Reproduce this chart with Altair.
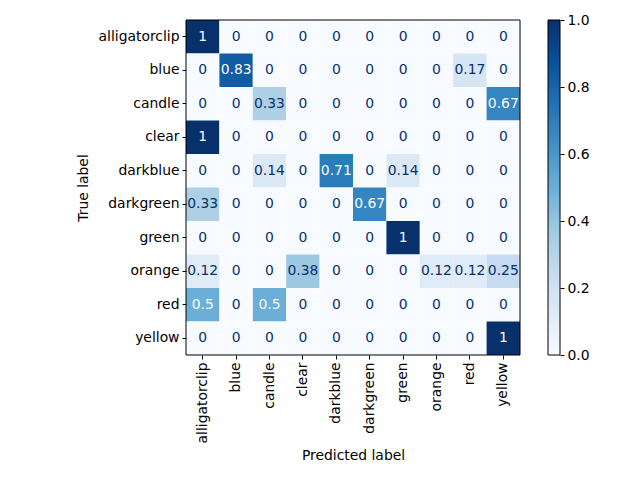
import altair as alt
import pandas as pd

labels = ["alligatorclip", "blue", "candle", "clear", "darkblue",
          "darkgreen", "green", "orange", "red", "yellow"]

matrix = [
    [1, 0, 0, 0, 0, 0, 0, 0, 0, 0],
    [0, 0.83, 0, 0, 0, 0, 0, 0, 0.17, 0],
    [0, 0, 0.33, 0, 0, 0, 0, 0, 0, 0.67],
    [1, 0, 0, 0, 0, 0, 0, 0, 0, 0],
    [0, 0, 0.14, 0, 0.71, 0, 0.14, 0, 0, 0],
    [0.33, 0, 0, 0, 0, 0.67, 0, 0, 0, 0],
    [0, 0, 0, 0, 0, 0, 1, 0, 0, 0],
    [0.12, 0, 0, 0.38, 0, 0, 0, 0.12, 0.12, 0.25],
    [0.5, 0, 0.5, 0, 0, 0, 0, 0, 0, 0],
    [0, 0, 0, 0, 0, 0, 0, 0, 0, 1],
]

blues = ["#f7fbff", "#deebf7", "#c6dbef", "#9ecae1", "#6baed6",
         "#4292c6", "#2171b5", "#08519c", "#08306b"]
stops = [i / 8 for i in range(9)]
cbar_ticks = [0, 0.2, 0.4, 0.6, 0.8, 1.0]

rows = []
for i, t in enumerate(labels):
    for j, p in enumerate(labels):
        rows.append({"true": t, "pred": p, "value": matrix[i][j]})
df = pd.DataFrame(rows)

FONT = "DejaVu Sans"
FS = 13.9
W, H = 334, 335

base = alt.Chart(df)

x_enc = alt.X("pred:N", sort=labels, title="Predicted label",
              axis=alt.Axis(labelAngle=270, labelAlign="right", labelBaseline="middle",
                            tickSize=4, labelPadding=3, titlePadding=6,
                            domain=False, tickColor="black", labelColor="black",
                            titleFontWeight="normal"))
y_enc = alt.Y("true:N", sort=labels, title="True label",
              axis=alt.Axis(tickSize=4, labelPadding=3, titlePadding=8,
                            domain=False, tickColor="black", labelColor="black",
                            titleFontWeight="normal"))

rect = base.mark_rect().encode(
    x=x_enc,
    y=y_enc,
    color=alt.Color("value:Q", scale=alt.Scale(domain=stops, range=blues), legend=None),
)

text = base.mark_text(font=FONT, fontSize=FS).encode(
    x=alt.X("pred:N", sort=labels),
    y=alt.Y("true:N", sort=labels),
    text=alt.Text("value:Q", format=".2~g"),
    color=alt.condition(alt.datum.value >= 0.5, alt.value("#f7fbff"), alt.value("#08306b")),
)

frame = alt.Chart(pd.DataFrame({"k": [0]})).mark_rect(
    filled=False, stroke="black", strokeWidth=1
).encode(x=alt.value(0), x2=alt.value(W), y=alt.value(0), y2=alt.value(H))

matrix_chart = (rect + text + frame).properties(width=W, height=H)

gradient = alt.LinearGradient(
    gradient="linear",
    stops=[alt.GradientStop(color=c, offset=o) for c, o in zip(blues, stops)],
    x1=0, x2=0, y1=1, y2=0,
)

cbar = alt.Chart(pd.DataFrame({"lo": [0.0], "hi": [1.0]})).mark_rect(
    fill=gradient, stroke="black", strokeWidth=1
).encode(
    x=alt.value(0), x2=alt.value(12),
    y=alt.Y("lo:Q", scale=alt.Scale(domain=[0, 1], nice=False, zero=False),
            axis=alt.Axis(orient="right", values=cbar_ticks, format=".1f",
                          tickSize=4, labelPadding=3, domain=False, grid=False,
                          tickColor="black", labelColor="black", title=None)),
    y2="hi:Q",
).properties(width=12, height=H)

chart = alt.hconcat(matrix_chart, cbar, spacing=26).properties(
    padding={"left": 68, "top": 5, "right": 5, "bottom": 5},
).configure_view(
    stroke=None
).configure_axis(
    labelFont=FONT, titleFont=FONT, labelFontSize=FS, titleFontSize=FS,
    grid=False,
).configure_scale(bandPaddingInner=0, bandPaddingOuter=0)

chart.save("out.html", embed_options={"renderer": "svg", "actions": False})
